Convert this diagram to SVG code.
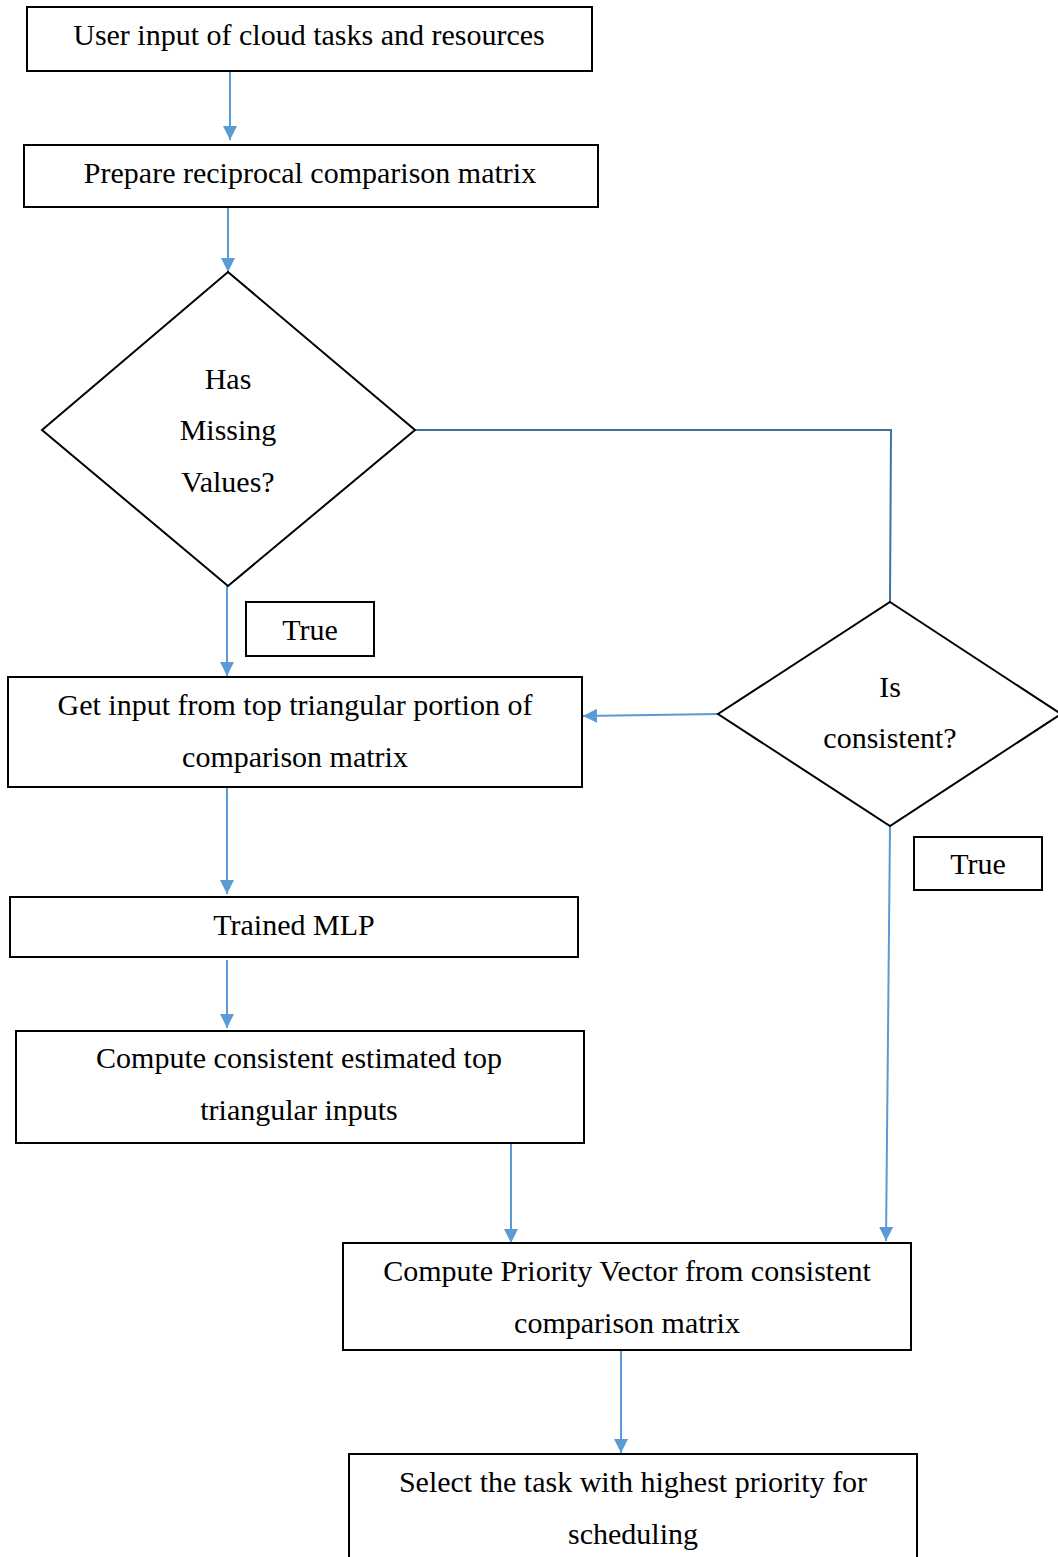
<svg xmlns="http://www.w3.org/2000/svg" width="1058" height="1557" viewBox="0 0 1058 1557">
<style>
.n{fill:#fff;stroke:#000;stroke-width:2}
.t{font-family:"Liberation Serif","Times New Roman",serif;font-size:30px;fill:#000;text-anchor:middle}
.c{fill:none;stroke:#5B9BD5;stroke-width:2}
.c2{fill:none;stroke:#41719C;stroke-width:2}
</style>
<defs>
<marker id="ah" viewBox="0 0 10 10" refX="10" refY="5" markerWidth="7" markerHeight="7" orient="auto" markerUnits="strokeWidth">
<path d="M0,0 L10,5 L0,10 Z" fill="#5B9BD5"/>
</marker>
</defs>
<rect width="1058" height="1557" fill="#fff"/>
<g id="connectors">
<line class="c" x1="230" y1="71" x2="230" y2="140" marker-end="url(#ah)"/>
<line class="c" x1="228" y1="207" x2="228" y2="272" marker-end="url(#ah)"/>
<polyline class="c2" points="415,430 891,430 890,602"/>
<line class="c" x1="227" y1="586" x2="227" y2="676" marker-end="url(#ah)"/>
<line class="c" x1="718" y1="714" x2="583" y2="716" marker-end="url(#ah)"/>
<line class="c" x1="227" y1="788" x2="227" y2="894" marker-end="url(#ah)"/>
<line class="c" x1="227" y1="960" x2="227" y2="1028" marker-end="url(#ah)"/>
<line class="c" x1="511" y1="1143" x2="511" y2="1243" marker-end="url(#ah)"/>
<line class="c" x1="890" y1="826" x2="886" y2="1241" marker-end="url(#ah)"/>
<line class="c" x1="621" y1="1351" x2="621" y2="1453" marker-end="url(#ah)"/>
</g>
<g id="n1"><rect class="n" x="27" y="7" width="565" height="64"/><text class="t" x="309" y="45">User input of cloud tasks and resources</text></g>
<g id="n2"><rect class="n" x="24" y="145" width="574" height="62"/><text class="t" x="310" y="183">Prepare reciprocal comparison matrix</text></g>
<g id="d1"><polygon class="n" points="228,272 415,430 228,586 42,430"/><text class="t" x="228" y="389">Has</text><text class="t" x="228" y="440">Missing</text><text class="t" x="228" y="492">Values?</text></g>
<g id="lbl1"><rect class="n" x="246" y="602" width="128" height="54"/><text class="t" x="310" y="640">True</text></g>
<g id="d2"><polygon class="n" points="890,602 1061,714 890,826 718,714"/><text class="t" x="890" y="697">Is</text><text class="t" x="890" y="748">consistent?</text></g>
<g id="n3"><rect class="n" x="8" y="677" width="574" height="110"/><text class="t" x="295" y="715">Get input from top triangular portion of</text><text class="t" x="295" y="767">comparison matrix</text></g>
<g id="lbl2"><rect class="n" x="914" y="837" width="128" height="53"/><text class="t" x="978" y="874">True</text></g>
<g id="n4"><rect class="n" x="10" y="897" width="568" height="60"/><text class="t" x="294" y="935">Trained MLP</text></g>
<g id="n5"><rect class="n" x="16" y="1031" width="568" height="112"/><text class="t" x="299" y="1068">Compute consistent estimated top</text><text class="t" x="299" y="1120">triangular inputs</text></g>
<g id="n6"><rect class="n" x="343" y="1243" width="568" height="107"/><text class="t" x="627" y="1281">Compute Priority Vector from consistent</text><text class="t" x="627" y="1333">comparison matrix</text></g>
<g id="n7"><rect class="n" x="349" y="1454" width="568" height="110"/><text class="t" x="633" y="1492">Select the task with highest priority for</text><text class="t" x="633" y="1544">scheduling</text></g>
</svg>
